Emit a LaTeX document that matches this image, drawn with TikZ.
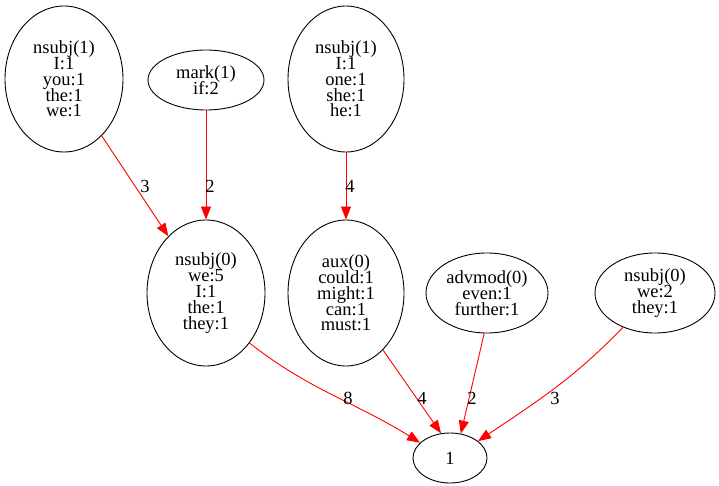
\documentclass[tikz,border=0pt]{standalone}
\usepackage{fontspec}
\setmainfont{Liberation Serif}
\usetikzlibrary{shapes.geometric,arrows.meta}
% tight line spacing: baselines always 15.8pt apart
\newcommand\graphfont{\fontsize{18.5pt}{15.8pt}\selectfont\lineskiplimit=-20pt\lineskip=0pt}
\begin{document}
\begin{tikzpicture}[x=1pt,y=1pt,
  ell/.style={draw=black,line width=0.9pt,ellipse,inner sep=0pt,align=center,font=\graphfont},
  dep/.style={draw=red,line width=0.9pt,-{Triangle[length=13pt,width=10pt]},red},
  lbl/.style={inner sep=0pt,font=\graphfont}]
\useasboundingbox (0,0) rectangle (719,-486);

% upper rank
\node[ell,minimum width=118pt,minimum height=146pt] (n1) at (64,-79)
  {nsubj(1)\\I:1\\you:1\\the:1\\we:1};
\node[ell,minimum width=116pt,minimum height=60pt] (n2) at (206,-80)
  {mark(1)\\if:2};
\node[ell,minimum width=116pt,minimum height=146pt] (n3) at (346,-79)
  {nsubj(1)\\I:1\\one:1\\she:1\\he:1};

% middle rank
\node[ell,minimum width=118pt,minimum height=146pt] (n4) at (206,-293)
  {nsubj(0)\\we:5\\I:1\\the:1\\they:1};
\node[ell,minimum width=116pt,minimum height=146pt] (n5) at (346,-293)
  {aux(0)\\could:1\\might:1\\can:1\\must:1};
\node[ell,minimum width=122pt,minimum height=80pt] (n6) at (487,-293)
  {advmod(0)\\even:1\\further:1};
\node[ell,minimum width=120pt,minimum height=80pt] (n7) at (655,-293)
  {nsubj(0)\\we:2\\they:1};

% root
\node[ell,minimum width=74pt,minimum height=50pt] (n8) at (450,-458) {1};

% dependency edges
\draw[dep] (n1) -- (n4);
\draw[dep] (n2) -- (n4);
\draw[dep] (n3) -- (n5);
\draw[dep] (n4.-49) to[out=-38,in=148] (n8.153);
\draw[dep] (n5.-57) -- (n8.110);
\draw[dep] (n6.-94) -- (n8.66);
\draw[dep] (n7.-133) to[out=-134,in=34] (n8.31);

% edge weights
\node[lbl] (w14) at (145,-186) {3};
\node[lbl] (w24) at (210,-186) {2};
\node[lbl] (w35) at (350,-186) {4};
\node[lbl] (w48) at (348,-398) {8};
\node[lbl] (w58) at (422,-398) {4};
\node[lbl] (w68) at (472,-398) {2};
\node[lbl] (w78) at (555,-398) {3};
\end{tikzpicture}
\end{document}
